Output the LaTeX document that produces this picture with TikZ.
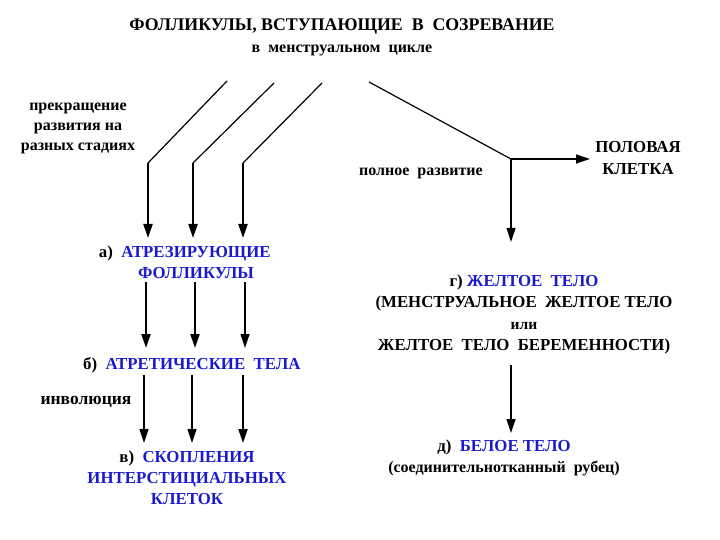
\documentclass[tikz,border=0pt]{standalone}
\usepackage{fontspec}
\setmainfont{Liberation Serif}
\usepackage{xcolor}
\usetikzlibrary{arrows.meta,positioning,calc}
\definecolor{stageblue}{HTML}{1A1ACC}
\tikzset{
  headtext/.style={font=\bfseries\fontsize{17.8}{20}\selectfont,align=center,inner sep=0pt},
  subtext/.style={font=\bfseries\fontsize{16}{20}\selectfont,align=center,inner sep=0pt},
  stagetext/.style={font=\bfseries\fontsize{16.8}{21}\selectfont,text=stageblue,align=center,inner sep=0pt},
  blacktext/.style={font=\bfseries\fontsize{16.8}{21.5}\selectfont,align=center,inner sep=0pt},
  notetext/.style={font=\bfseries\fontsize{16}{20}\selectfont,align=center,inner sep=0pt},
  pathline/.style={line width=1.2pt},
  stagearrow/.style={-{Triangle[length=14pt,width=9pt]},line width=1.2pt},
  boldarrow/.style={stagearrow,line width=2.2pt}
}

\begin{document}
\begin{tikzpicture}[x=1pt,y=-1pt]
  \useasboundingbox (0,0) rectangle (720,540);
  % headings
  \node[headtext] (title) at (342,27) {ФОЛЛИКУЛЫ,\ ВСТУПАЮЩИЕ\ \ В\ \ СОЗРЕВАНИЕ};
  \node[subtext] (cycle) at (342,50) {в\ \ менструальном\ \ цикле};
  \node[notetext] (stop) at (78,128) {прекращение\\развития на\\разных стадиях};
  \node[notetext] (full) at (421,173) {полное\ \ развитие};
  \node[blacktext] (gamete) at (638,158) {ПОЛОВАЯ\\КЛЕТКА};
  \node[notetext,font=\bfseries\fontsize{17.5}{20}\selectfont] (invol) at (86,402) {инволюция};

  % stages
  \node[stagetext] (atrez) at (196,262.5)
    {\llap{\textcolor{black}{а)}\ \ }АТРЕЗИРУЮЩИЕ\\ФОЛЛИКУЛЫ};
  \node[stagetext] (atret) at (203,365)
    {\llap{\textcolor{black}{б)}\ \ }АТРЕТИЧЕСКИЕ\ \ ТЕЛА};
  \node[stagetext] (cluster) at (187,478)
    {\textcolor{black}{в)}\ \ СКОПЛЕНИЯ\\ИНТЕРСТИЦИАЛЬНЫХ\\КЛЕТОК};
  \node[blacktext] (luteum) at (524,314.5)
    {г)\ \textcolor{stageblue}{ЖЕЛТОЕ\ \ ТЕЛО}\\
     (МЕНСТРУАЛЬНОЕ\ \ ЖЕЛТОЕ ТЕЛО\\
     {\fontsize{15.5}{21.5}\selectfont или}\\
     ЖЕЛТОЕ\ \ ТЕЛО\ \ БЕРЕМЕННОСТИ)};
  \node[blacktext] (albicans) at (504,458)
    {д)\ \ \textcolor{stageblue}{БЕЛОЕ ТЕЛО}\\
     {\fontsize{16}{23}\selectfont(соединительнотканный\ \ рубец)}};

  % branch points
  \coordinate (top1) at (227,81);  \coordinate (bend1) at (148,163);
  \coordinate (top2) at (274,83);  \coordinate (bend2) at (193,163);
  \coordinate (top3) at (322,83);  \coordinate (bend3) at (243,163);
  \coordinate (top4) at (369,82);  \coordinate (split) at (511,159);
  \coordinate (gametetip) at (590,159);
  \coordinate (luteumtip) at (511,242);
  \coordinate (albicanstip) at (511,433);

  % left branch
  \draw[pathline] (top1) -- (bend1);
  \draw[pathline] (top2) -- (bend2);
  \draw[pathline] (top3) -- (bend3);
  \foreach \b in {bend1,bend2,bend3}
    \draw[boldarrow] (\b) -- (\b |- 0,238);
  \draw[boldarrow] (146,282) -- (146,348);
  \draw[boldarrow] (195,282) -- (195,348);
  \draw[stagearrow] (245,282) -- (245,348);
  \draw[stagearrow] (144,375) -- (144,443);
  \draw[stagearrow] (192,375) -- (192,443);
  \draw[boldarrow] (243,375) -- (243,443);

  % right branch
  \draw[pathline] (top4) -- (split);
  \draw[stagearrow] (split) -- (gametetip);
  \draw[stagearrow] (split) -- (luteumtip);
  \draw[stagearrow] (511,365) -- (albicanstip);
\end{tikzpicture}
\end{document}
